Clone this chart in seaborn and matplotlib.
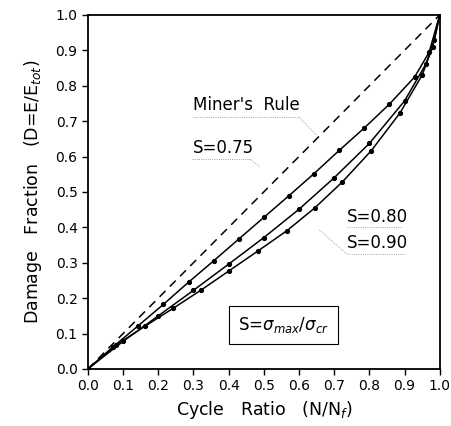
import matplotlib
matplotlib.use("Agg")
import matplotlib.pyplot as plt
import seaborn as sns
import numpy as np

# Data
miner_x = [0.0, 1.0]
miner_y = [0.0, 1.0]

s75_x = [0.0, 0.071, 0.143, 0.214, 0.286, 0.357, 0.429, 0.5, 0.571, 0.643, 0.714, 0.786, 0.857, 0.929, 0.97, 1.0]
s75_y = [0.0, 0.062, 0.122, 0.182, 0.245, 0.305, 0.367, 0.428, 0.489, 0.552, 0.617, 0.681, 0.748, 0.825, 0.895, 1.0]

s80_x = [0.0, 0.1, 0.2, 0.3, 0.4, 0.5, 0.6, 0.7, 0.8, 0.9, 0.96, 0.985, 1.0]
s80_y = [0.0, 0.078, 0.150, 0.222, 0.296, 0.371, 0.451, 0.540, 0.637, 0.757, 0.860, 0.93, 1.0]

s90_x = [0.0, 0.081, 0.161, 0.242, 0.322, 0.401, 0.483, 0.565, 0.645, 0.723, 0.805, 0.887, 0.95, 0.98, 1.0]
s90_y = [0.0, 0.068, 0.120, 0.171, 0.223, 0.277, 0.333, 0.390, 0.455, 0.528, 0.616, 0.723, 0.830, 0.91, 1.0]

ticks = [0.0, 0.1, 0.2, 0.3, 0.4, 0.5, 0.6, 0.7, 0.8, 0.9, 1.0]
tick_labels = ["0.0", "0.1", "0.2", "0.3", "0.4", "0.5", "0.6", "0.7", "0.8", "0.9", "1.0"]

sns.set_style("ticks")
plt.rcParams['font.family'] = ['DejaVu Sans']
plt.rcParams['mathtext.fontset'] = 'dejavusans'
plt.rcParams['text.color'] = 'black'
plt.rcParams['axes.labelcolor'] = 'black'

fig = plt.figure(figsize=(4.51, 4.26), dpi=100)
ax = fig.add_axes([0.195, 0.134, 0.78, 0.831])

sns.lineplot(x=miner_x, y=miner_y, ax=ax, color='black', lw=1.1,
             linestyle=(0, (5.5, 4)))
for xs, ys in [(s75_x, s75_y), (s80_x, s80_y), (s90_x, s90_y)]:
    sns.lineplot(x=xs, y=ys, ax=ax, color='black', lw=1.1, marker='o',
                 markersize=3, markeredgecolor='black', sort=False)

ax.set_xlim(0, 1)
ax.set_ylim(0, 1)
ax.set_xticks(ticks)
ax.set_xticklabels(tick_labels)
ax.set_yticks(ticks)
ax.set_yticklabels(tick_labels)
ax.tick_params(direction='out', length=4, width=1, labelsize=10, colors='black')
for sp in ax.spines.values():
    sp.set_visible(True)
    sp.set_linewidth(1.3)
    sp.set_color('black')

ax.set_xlabel("Cycle   Ratio   (N/N$_f$)", fontsize=12.5, labelpad=4)
ax.set_ylabel("Damage   Fraction   (D=E/E$_{tot}$)", fontsize=12.5, labelpad=8)

# Annotations
ax.text(0.30, 0.745, "Miner's  Rule", fontsize=12, va='center', ha='left')
ax.plot([0.30, 0.60], [0.712, 0.712], color='gray', lw=0.6, ls=':')
ax.plot([0.60, 0.65], [0.712, 0.66], color='gray', lw=0.6, ls=':')

ax.text(0.297, 0.625, "S=0.75", fontsize=12, va='center', ha='left')
ax.plot([0.297, 0.46], [0.592, 0.592], color='gray', lw=0.6, ls=':')
ax.plot([0.46, 0.49], [0.592, 0.57], color='gray', lw=0.6, ls=':')

ax.text(0.735, 0.43, "S=0.80", fontsize=12, va='center', ha='left')
ax.plot([0.735, 0.89], [0.40, 0.40], color='gray', lw=0.6, ls=':')

ax.text(0.735, 0.356, "S=0.90", fontsize=12, va='center', ha='left')
ax.plot([0.735, 0.90], [0.325, 0.325], color='gray', lw=0.6, ls=':')
ax.plot([0.735, 0.655], [0.325, 0.395], color='gray', lw=0.6, ls=':')

ax.text(0.556, 0.124, r"S=$\sigma_{max}/\sigma_{cr}$", fontsize=12, va='center', ha='center',
        bbox=dict(boxstyle='square,pad=0.55', fc='white', ec='black', lw=0.8))

fig.savefig("out.png", dpi=100)
